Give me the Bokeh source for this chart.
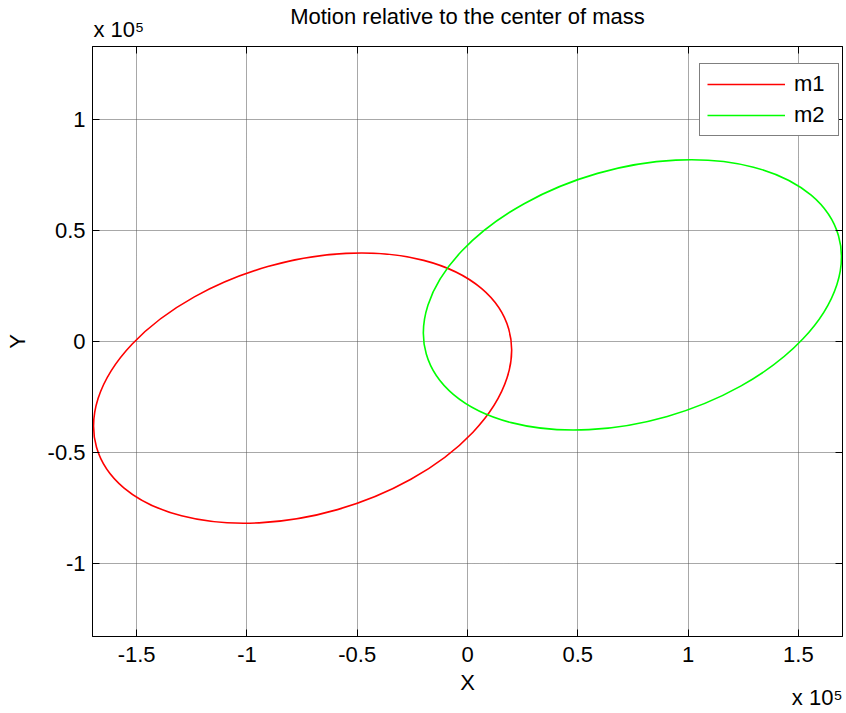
from bokeh.plotting import figure
from bokeh.models import (ColumnDataSource, Range1d, FixedTicker, LinearAxis,
                          Title, Legend, LegendItem, CustomLabelingPolicy)
from bokeh.embed import file_html
from bokeh.resources import INLINE

# Orbits of the two bodies about their common center of mass (units: m)
names = ["m1", "m2"]
center_x = [-0.7475e5, 0.7475e5]
center_y = [-0.21e5, 0.21e5]
major_axis = [1.944e5, 1.944e5]
minor_axis = [1.14e5, 1.14e5]
tilt_deg = [16.0, 16.0]
colors = ["#ff0000", "#00ff00"]

x_ticks = [-1.5e5, -1.0e5, -0.5e5, 0.0, 0.5e5, 1.0e5, 1.5e5]
x_tick_labels = ["-1.5", "-1", "-0.5", "0", "0.5", "1", "1.5"]
y_ticks = [-1.0e5, -0.5e5, 0.0, 0.5e5, 1.0e5]
y_tick_labels = ["-1", "-0.5", "0", "0.5", "1"]
exponent_text = "x 10\u2075"

FONT = "Liberation Sans"
FS = "22px"

p = figure(frame_width=750, frame_height=590,
           x_range=Range1d(-1.7e5, 1.7e5), y_range=Range1d(-1.33e5, 1.33e5),
           output_backend="svg", toolbar_location=None,
           min_border_left=92, min_border_right=4,
           min_border_top=46, min_border_bottom=77)
p.background_fill_color = "white"
p.border_fill_color = "white"
p.outline_line_color = "black"
p.outline_line_width = 1

p.title.text = "Motion relative to the center of mass"
p.title.align = "center"
p.title.text_font = FONT
p.title.text_font_size = FS
p.title.text_font_style = "normal"
p.title.text_color = "black"
p.title.standoff = 2

src = ColumnDataSource(dict(x=center_x, y=center_y, w=major_axis, h=minor_axis,
                            a=tilt_deg, c=colors, n=names))
p.ellipse(x="x", y="y", width="w", height="h", angle="a", angle_units="deg",
          source=src, fill_color=None, line_color="c", line_width=1.6)

# axes: labelled left/bottom, tick-only right/top (boxed look)
for ax, ticks, labels in ((p.xaxis[0], x_ticks, x_tick_labels),
                          (p.yaxis[0], y_ticks, y_tick_labels)):
    ax.ticker = FixedTicker(ticks=ticks)
    ax.major_label_overrides = {t: l for t, l in zip(ticks, labels)}
    ax.major_tick_in = 7
    ax.major_tick_out = 0
    ax.minor_tick_line_color = None
    ax.axis_line_color = "black"
    ax.major_tick_line_color = "black"
    ax.major_label_text_font = FONT
    ax.major_label_text_font_size = FS
    ax.major_label_text_color = "black"
    ax.axis_label_text_font = FONT
    ax.axis_label_text_font_size = FS
    ax.axis_label_text_font_style = "normal"
    ax.axis_label_text_color = "black"

p.xaxis.axis_label = "X"
p.yaxis.axis_label = "Y"
p.xaxis.major_label_standoff = 10
p.xaxis.axis_label_standoff = 5
p.yaxis.major_label_standoff = 7
p.yaxis.axis_label_standoff = 15

no_labels = CustomLabelingPolicy(code="for (const i of indices) { indices.unset(i) }\nreturn indices")
for ticks, side, standoff in ((x_ticks, "above", 11), (y_ticks, "right", 0)):
    ax = LinearAxis(ticker=FixedTicker(ticks=ticks), major_tick_in=7, major_tick_out=0,
                    minor_tick_line_color=None, axis_line_color="black",
                    major_label_text_font_size="1px", major_label_standoff=standoff,
                    major_label_policy=no_labels)
    p.add_layout(ax, side)

p.grid.grid_line_color = "#505050"
p.grid.grid_line_dash = "1 1"
p.xgrid.ticker = FixedTicker(ticks=x_ticks)
p.ygrid.ticker = FixedTicker(ticks=y_ticks)

# axis exponent notes (x 10^5), kept flat so they do not take border space
for side, align, off in (("above", "left", 1), ("below", "right", 0)):
    p.add_layout(Title(text=exponent_text, align=align, offset=off, vertical_align="top",
                       standoff=-25.5, text_font=FONT, text_font_size=FS,
                       text_font_style="normal", text_color="black"), side)

# legend entries drawn as line samples
items = []
for n, c in zip(names, colors):
    r = p.line(x=[float("nan")], y=[float("nan")], line_color=c, line_width=1.6)
    items.append(LegendItem(label=n, renderers=[r]))
legend = Legend(items=items, location=(607, 500), glyph_width=78, glyph_height=22,
                label_standoff=9, label_width=37, label_height=22, padding=7, spacing=5,
                label_text_font=FONT, label_text_font_size=FS, label_text_color="black",
                border_line_color="black", border_line_width=1,
                background_fill_color="white", background_fill_alpha=1.0)
p.add_layout(legend, "center")

open("out.html", "w").write(file_html(p, INLINE))
